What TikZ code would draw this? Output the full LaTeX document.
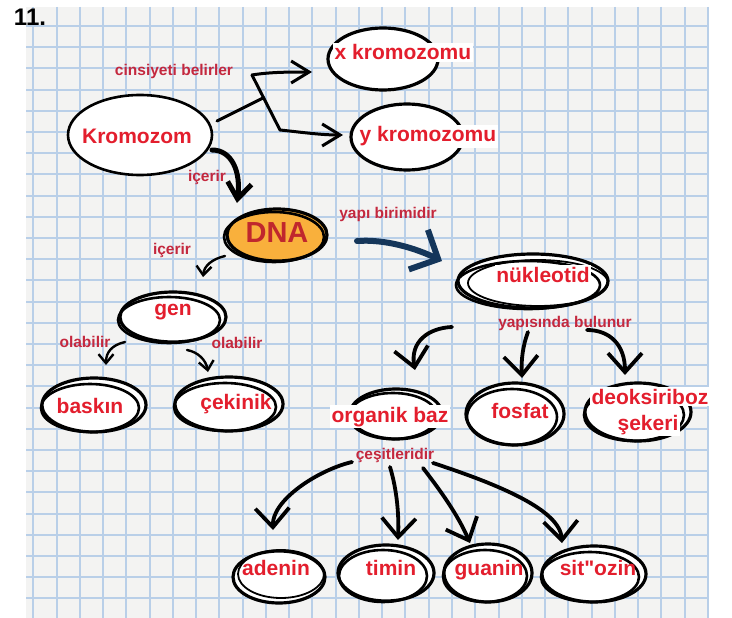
\documentclass[tikz,border=0pt]{standalone}
\usepackage{fontspec}
\setmainfont{Liberation Sans}
\newfontfamily\rawsans{Liberation Sans}
\usetikzlibrary{arrows.meta,shapes.geometric}
\definecolor{gridblue}{HTML}{B9CFE8}
\definecolor{paper}{HTML}{F3F3F2}
\definecolor{txtred}{HTML}{E31E2D}
\definecolor{lblred}{HTML}{C4283E}
\definecolor{dnaorange}{HTML}{F9B03C}
\definecolor{dnared}{HTML}{C0272D}
\definecolor{navy}{HTML}{15365A}
\tikzset{
  big/.style={font=\fontsize{21}{23}\selectfont\bfseries, text=txtred, inner sep=1.5pt, anchor=base},
  lbl/.style={font=\fontsize{15.5}{17}\selectfont\bfseries, text=lblred, inner sep=0pt, anchor=base},
  whitebg/.style={fill=white},
  bub/.style={ellipse, draw=black, fill=white, line width=3.2pt, inner sep=0pt},
  sk/.style={draw=black, line width=2.6pt},
  conn/.style={line width=3pt, line cap=round, line join=round},
  arrbig/.style={conn, line width=3.8pt, -{Straight Barb[length=19pt,width=34pt,line width=3.8pt]}},
  arrmid/.style={conn, -{Straight Barb[length=18pt,width=22pt,line width=3pt]}},
  arrsmall/.style={conn, line width=2.4pt, -{Straight Barb[length=9pt,width=15pt,line width=2.4pt]}},
}
\begin{document}
\begin{tikzpicture}[x=1pt,y=-1pt]
\useasboundingbox (0,0) rectangle (732,618);
\fill[white] (0,0) rectangle (732,618);
% grid paper
\fill[paper] (26,7) rectangle (709,618);
\foreach \k in {0,...,29} \draw[gridblue, line width=2pt] ({33.3+23.26*\k},7) -- ({33.3+23.26*\k},618);
\foreach \k in {0,...,27} \draw[gridblue, line width=2pt] (26,{26+21.2*\k}) -- (709,{26+21.2*\k});

\node[font=\fontsize{24}{26}\selectfont\bfseries, anchor=base] (num) at (30,26) {11.};

% ---------- bubbles ----------
\node[bub, minimum width=144pt, minimum height=80pt, line width=2.6pt] (krom) at (140,135) {};
\node[bub, minimum width=110pt, minimum height=62pt] (xk) at (383,59) {};
\node[bub, minimum width=112pt, minimum height=66pt] (yk) at (407,137) {};
\node[bub, fill=dnaorange, minimum width=100pt, minimum height=52pt] (dna) at (277,235) {};
\draw[sk] (274,237) ellipse [x radius=50, y radius=25];
\node[bub, minimum width=106pt, minimum height=50pt] (gen) at (173,317) {};
\draw[sk] (169,320) ellipse [x radius=51, y radius=23];
\node[bub, minimum width=104pt, minimum height=54pt] (bask) at (94,405) {};
\draw[sk] (90,408) ellipse [x radius=49, y radius=24];
\node[bub, minimum width=108pt, minimum height=54pt] (cek) at (229,404) {};
\draw[sk] (225,407) ellipse [x radius=51, y radius=24];
\node[bub, minimum width=150pt, minimum height=54pt] (nuk) at (533,281) {};
\draw[sk] (528,285) ellipse [x radius=72, y radius=24];
\draw[sk, line width=1.8pt] (538,283) ellipse [x radius=70, y radius=23];
\node[bub, minimum width=92pt, minimum height=50pt] (org) at (396,414) {};
\draw[sk] (393,416) ellipse [x radius=44, y radius=23];
\node[bub, minimum width=98pt, minimum height=62pt] (fos) at (515,414) {};
\draw[sk] (512,417) ellipse [x radius=45, y radius=28];
\node[bub, minimum width=106pt, minimum height=58pt] (deo) at (638,412) {};
\draw[sk] (634,415) ellipse [x radius=50, y radius=26];
\node[bub, minimum width=92pt, minimum height=52pt] (ade) at (279,577) {};
\draw[sk, line width=1.8pt] (281,574) ellipse [x radius=43, y radius=24];
\node[bub, minimum width=96pt, minimum height=56pt] (tim) at (386,573) {};
\draw[sk] (383,576) ellipse [x radius=44, y radius=26];
\node[bub, minimum width=88pt, minimum height=58pt] (gua) at (488,573) {};
\draw[sk] (485,576) ellipse [x radius=42, y radius=26];
\node[bub, minimum width=104pt, minimum height=56pt] (sit) at (594,574) {};
\draw[sk] (590,577) ellipse [x radius=49, y radius=25];

% ---------- texts ----------
\node[big] (tkrom) at (137,143) {Kromozom};
\node[big, whitebg] (txk) at (403,60) {x kromozomu};
\node[big, whitebg] (tyk) at (428,142) {y kromozomu};
\node[font=\fontsize{29}{31}\selectfont\bfseries, text=dnared, anchor=base, inner sep=0pt] (tdna) at (277,242) {DNA};
\node[big] (tgen) at (173,315) {gen};
\node[big] (tbask) at (90,413) {baskın};
\node[big] (tcek) at (236,409) {çekinik};
\node[big, whitebg] (tnuk) at (543,282) {nükleotid};
\node[big, whitebg] (torg) at (390,422) {organik baz};
\node[big] (tfos) at (520,418) {fosfat};
\node[big, whitebg] (tdeo) at (650,404) {deoksiriboz};
\node[big, whitebg] (tsek) at (648,430) {şekeri};
\node[big] (tade) at (276,575) {adenin};
\node[big] (ttim) at (391,575) {timin};
\node[big] (tgua) at (489,575) {guanin};
\node[big] (tsit) at (598,575) {\rawsans\bfseries sit"ozin};

% ---------- labels ----------
\node[lbl] (l1) at (174,76) {cinsiyeti belirler};
\node[lbl] (l2) at (207,181) {içerir};
\node[lbl] (l3) at (172,254) {içerir};
\node[lbl] (l4) at (388,218) {yapı birimidir};
\node[lbl] (l5) at (85,347) {olabilir};
\node[lbl] (l6) at (237,348) {olabilir};
\node[lbl] (l7) at (565,327) {yapısında bulunur};
\node[lbl] (l8) at (395,459) {çeşitleridir};

% ---------- connectors ----------
\coordinate (ks) at (217,121);
\coordinate (kj) at (263,98);
\coordinate (kv) at (252,75);
\coordinate (kb) at (280,130);
\draw[conn] (ks) -- (kj);
\draw[arrmid] (kv) .. controls (270,72) and (290,72) .. (312,72);
\draw[arrmid] (kv) -- (kb) .. controls (300,132) and (320,135) .. (343,135);

\draw[conn, line width=5pt, -{Straight Barb[length=16pt,width=24pt,line width=5pt]}] (212,150) .. controls (232,150) and (241,172) .. (237,203);
\draw[arrsmall] (225,256) .. controls (212,259) and (204,266) .. (203,277);
\draw[navy, conn, line width=6pt, -{Straight Barb[length=22pt,width=44pt,line width=6pt]}] (357,241) .. controls (385,239) and (415,248) .. (442,261);

\draw[arrsmall] (125,342) .. controls (112,345) and (106,352) .. (106,365);
\draw[arrsmall] (187,350) .. controls (198,352) and (206,360) .. (208,372);

\draw[arrbig] (452,327) .. controls (428,328) and (410,342) .. (415,370);
\draw[arrbig] (528,332) .. controls (523,345) and (521,360) .. (522,378);
\draw[arrbig] (587,330) .. controls (610,330) and (625,345) .. (625,375);

\draw[arrbig] (352,462) .. controls (318,470) and (272,500) .. (273,530);
\draw[arrbig] (390,467) .. controls (397,490) and (399,515) .. (398,540);
\draw[arrbig] (423,468) .. controls (440,490) and (458,515) .. (470,543);
\draw[arrbig] (433,463) .. controls (500,485) and (560,510) .. (562,543);
\end{tikzpicture}
\end{document}
